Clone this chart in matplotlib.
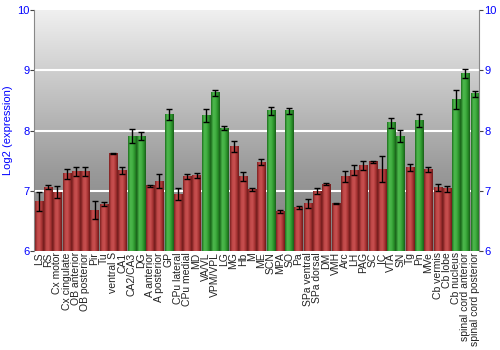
import numpy as np
import matplotlib
matplotlib.use("Agg")
import matplotlib.pyplot as plt
from matplotlib.colors import LinearSegmentedColormap

categories = ["LS", "RS", "Cx motor", "Cx cingulate", "OB anterior", "OB posterior", "Pir", "Tu",
              "ventral S", "CA1", "CA2/CA3", "DG", "A anterior", "A posterior", "GP", "CPu lateral",
              "CPu medial", "MD", "VA/VL", "VPM/VPL", "LG", "MG", "Hb", "M", "ME", "SCN", "MPA", "SO",
              "Pa", "SPa ventral", "SPa dorsal", "DM", "VMH", "Arc", "LH", "PAG", "SC", "IC", "VTA",
              "SN", "Tg", "Pn", "MVe", "Cb vermis", "Cb lobe", "Cb nucleus",
              "spinal cord anterior", "spinal cord posterior"]
values = [6.82, 7.06, 6.98, 7.28, 7.32, 7.32, 6.68, 6.78,
          7.62, 7.34, 7.91, 7.91, 7.08, 7.16, 8.26, 6.94,
          7.23, 7.25, 8.25, 8.63, 8.04, 7.73, 7.24, 7.02, 7.47, 8.33, 6.65, 8.33,
          6.72, 6.79, 6.99, 7.11, 6.79, 7.24, 7.34, 7.42, 7.48, 7.36, 8.13,
          7.91, 7.39, 8.17, 7.35, 7.06, 7.03, 8.52,
          8.95, 8.61]
errors = [0.16, 0.03, 0.10, 0.08, 0.07, 0.08, 0.15, 0.04,
          0.01, 0.06, 0.12, 0.07, 0.01, 0.12, 0.09, 0.10,
          0.04, 0.04, 0.10, 0.05, 0.03, 0.09, 0.075, 0.03, 0.05, 0.065, 0.025, 0.05,
          0.03, 0.07, 0.05, 0.02, 0.01, 0.09, 0.085, 0.075, 0.015, 0.22, 0.085,
          0.105, 0.06, 0.11, 0.04, 0.06, 0.05, 0.16,
          0.08, 0.05]
green_flags = [0, 0, 0, 0, 0, 0, 0, 0,
               0, 0, 1, 1, 0, 0, 1, 0,
               0, 0, 1, 1, 1, 0, 0, 0, 0, 1, 0, 1,
               0, 0, 0, 0, 0, 0, 0, 0, 0, 0, 1,
               1, 0, 1, 0, 0, 0, 1,
               1, 1]
yticks = [6, 7, 8, 9, 10]

fig = plt.figure(figsize=(5, 3.5), dpi=100)
ax = fig.add_axes([0.0686, 0.283, 0.8900, 0.688])
ymin, ymax = 6, 10
n = len(categories)
ax.set_xlim(-0.5, n - 0.5)
ax.set_ylim(ymin, ymax)

# background gradient
bg = LinearSegmentedColormap.from_list("bg", ["#7c7c7c", "#9a9a9a", "#c4c4c4", "#f0f0f0"])
grad = np.linspace(0, 1, 256).reshape(-1, 1)
ax.imshow(grad, extent=(-0.5, n - 0.5, ymin, ymax), origin="lower", aspect="auto",
          cmap=bg, zorder=0)

for y in [7, 8, 9]:
    ax.axhline(y, color="white", lw=1.5, zorder=1)

red_cmap = LinearSegmentedColormap.from_list("r", ["#7a1f1f", "#c04848", "#c85050", "#a83434", "#6e1a1a"])
green_cmap = LinearSegmentedColormap.from_list("g", ["#1e6e1e", "#4cb84c", "#44b044", "#2a922a", "#1a5e1a"])
hgrad = np.linspace(0, 1, 64).reshape(1, -1)
width = 0.88
x = np.arange(n)
for i, (v, g) in enumerate(zip(values, green_flags)):
    cm = green_cmap if g else red_cmap
    ax.imshow(hgrad, extent=(i - width / 2, i + width / 2, ymin, v), origin="lower",
              aspect="auto", cmap=cm, zorder=2)
ax.errorbar(x, values, yerr=errors, fmt="none", ecolor="black", elinewidth=1,
            capsize=2, capthick=1, zorder=3)

ax.set_xticks(x)
ax.set_xticklabels(categories, rotation=90, fontsize=7.5, family="Liberation Sans", color="#222222")
ax.tick_params(axis="x", length=0, pad=1)
ax.set_yticks(yticks)
ax.tick_params(axis="y", which="both", left=True, right=True, labelleft=True, labelright=True,
               colors="#444444", labelcolor="blue", labelsize=8, length=3, pad=0.5)
for lbl in ax.get_yticklabels():
    lbl.set_family("Liberation Sans")
ax.set_ylabel("Log2 (expression)", color="blue", fontsize=8, family="Liberation Sans", labelpad=3)
for s in ["top", "bottom"]:
    ax.spines[s].set_visible(False)
for s in ["left", "right"]:
    ax.spines[s].set_color("#888888")

fig.savefig("out.png", dpi=100)
